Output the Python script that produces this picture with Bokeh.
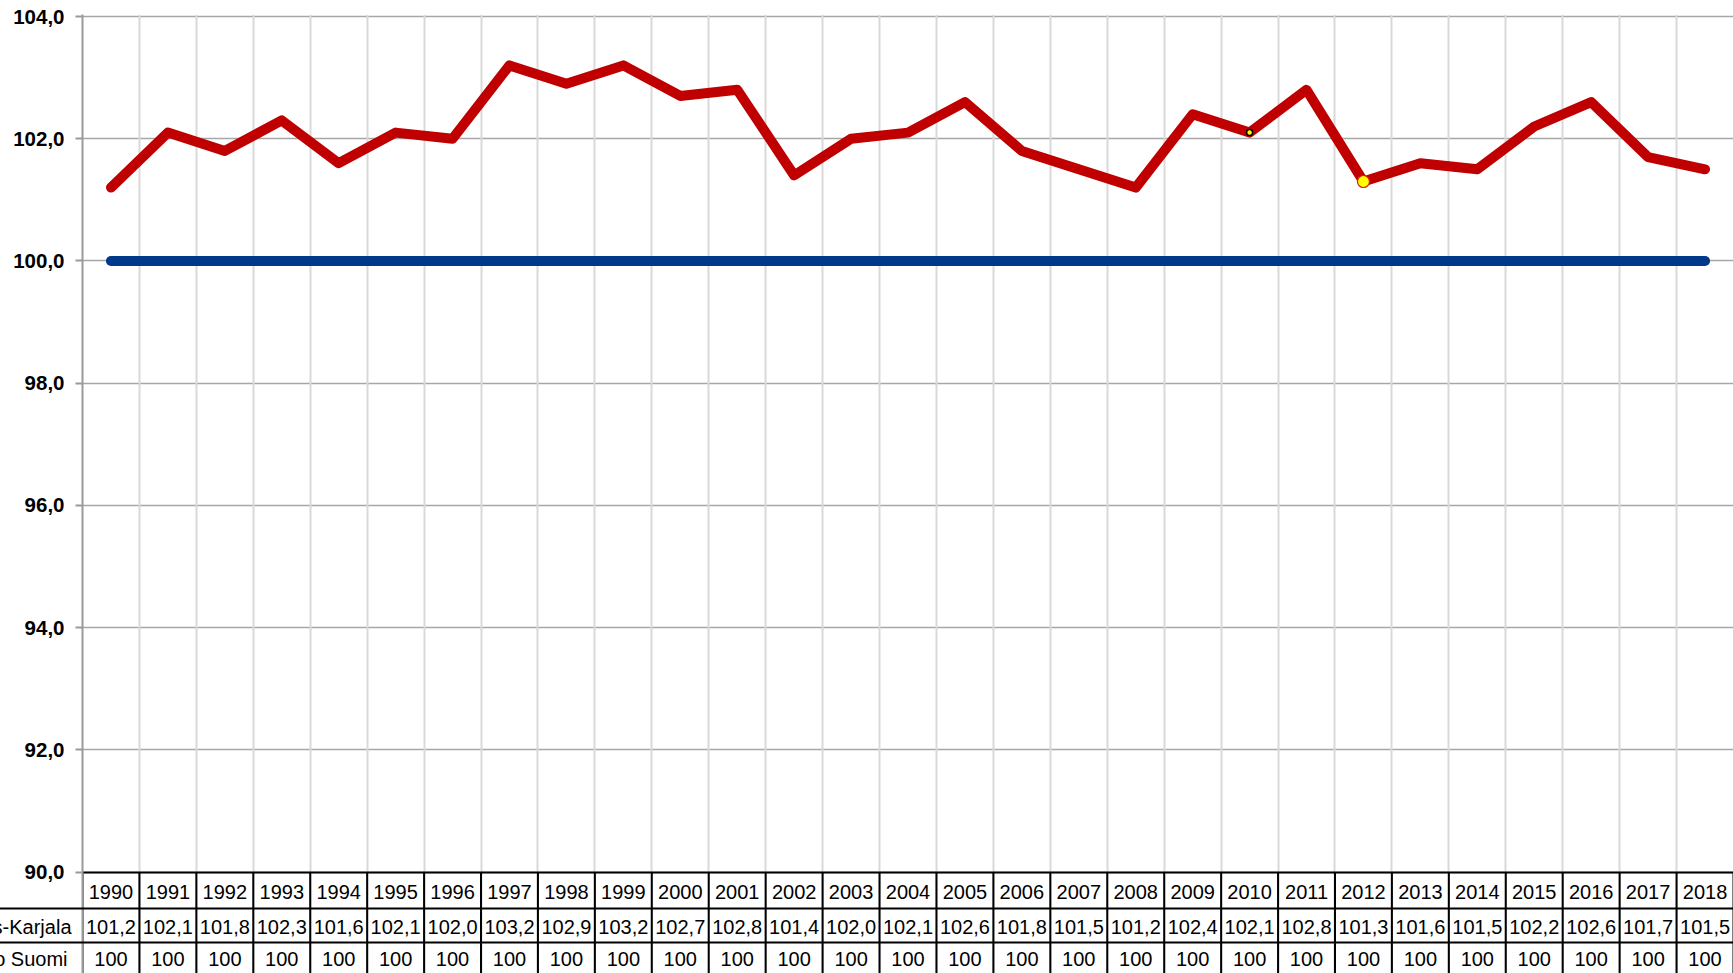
from bokeh.plotting import figure
from bokeh.models import Range1d, FixedTicker, Grid
from bokeh.embed import file_html
from bokeh.resources import INLINE
from bokeh.core.properties import value

# ---------------- data ----------------
years = ["1990", "1991", "1992", "1993", "1994", "1995", "1996", "1997", "1998", "1999",
         "2000", "2001", "2002", "2003", "2004", "2005", "2006", "2007", "2008", "2009",
         "2010", "2011", "2012", "2013", "2014", "2015", "2016", "2017", "2018"]
pohjois_karjala = [101.2, 102.1, 101.8, 102.3, 101.6, 102.1, 102.0, 103.2, 102.9, 103.2,
                   102.7, 102.8, 101.4, 102.0, 102.1, 102.6, 101.8, 101.5, 101.2, 102.4,
                   102.1, 102.8, 101.3, 101.6, 101.5, 102.2, 102.6, 101.7, 101.5]
koko_suomi = [100, 100, 100, 100, 100, 100, 100, 100, 100, 100,
              100, 100, 100, 100, 100, 100, 100, 100, 100, 100,
              100, 100, 100, 100, 100, 100, 100, 100, 100]
series_names = ["Pohjois-Karjala", "Koko Suomi"]
y_ticks = [90, 92, 94, 96, 98, 100, 102, 104]
y_tick_labels = ["90,0", "92,0", "94,0", "96,0", "98,0", "100,0", "102,0", "104,0"]
small_marker_year = "2010"
big_marker_year = "2012"

# ---------------- layout constants (pixels) ----------------
W, H = 1733, 973
LEFT = 82
TOP = 14
Y104_PX = 16.0
Y90_PX = 871.5
PXU = (Y90_PX - Y104_PX) / 14.0
N = len(years)
PXX = (W - LEFT) / N


def ypx(px):
    return 104 - (px - Y104_PX) / PXU


y_top = ypx(TOP)
y_bottom = ypx(H)

RED = "#C00000"
BLUE = "#00388A"
FONT = "Liberation Sans"

p = figure(width=W, height=H,
           x_range=Range1d(-0.5, N - 0.5), y_range=Range1d(y_bottom, y_top),
           output_backend="svg", toolbar_location=None, x_axis_location=None,
           min_border_left=LEFT, min_border_right=0, min_border_top=TOP, min_border_bottom=0)
p.outline_line_color = None
p.background_fill_color = "white"
p.extra_y_ranges = {"rows": Range1d(start=-H, end=-TOP)}

yax = p.yaxis[0]
yax.ticker = FixedTicker(ticks=y_ticks)
yax.major_label_overrides = {t: l for t, l in zip(y_ticks, y_tick_labels)}
yax.axis_line_color = "#9A9A9A"
yax.axis_line_width = 2
yax.major_tick_line_color = "#9A9A9A"
yax.major_tick_line_width = 2
yax.major_tick_out = 7
yax.major_tick_in = 0
yax.minor_tick_line_color = None
yax.major_label_text_font = FONT
yax.major_label_text_font_style = "bold"
yax.major_label_text_font_size = "20.5px"
yax.major_label_text_color = "black"
yax.major_label_standoff = 11

p.ygrid.ticker = FixedTicker(ticks=y_ticks)
p.ygrid.grid_line_color = "#A6A6A6"
p.ygrid.grid_line_width = 1.6
p.xgrid.visible = False
xgrid = Grid(dimension=0, ticker=FixedTicker(ticks=[k - 0.5 for k in range(1, N)]),
             grid_line_color="#D9D9D9", grid_line_width=2)
p.add_layout(xgrid)

xs = list(range(N))

p.line(xs, koko_suomi, line_color=BLUE, line_width=10, line_cap="round", line_join="round")
p.line(xs, pohjois_karjala, line_color=RED, line_width=10, line_cap="round", line_join="round")

i_small = years.index(small_marker_year)
i_big = years.index(big_marker_year)
p.scatter([xs[i_big]], [pohjois_karjala[i_big]], size=12, fill_color="#FFFF00",
          line_color="#D02000", line_width=1.2)
p.scatter([xs[i_small]], [pohjois_karjala[i_small]], size=6, fill_color="#FFFF00",
          line_color="black", line_width=1.5)

# ---------------- data table ----------------
ROW_TOP = -872
ROW1_BOTTOM = -908
ROW2_BOTTOM = -942
TABLE_BOTTOM = -H - 10
far_left = -0.5 - (LEFT + 10) / PXX

vx = [k - 0.5 for k in range(0, N + 1)]
p.segment(x0=vx, y0=[ROW_TOP] * len(vx), x1=vx, y1=[TABLE_BOTTOM] * len(vx),
          line_color="black", line_width=2, y_range_name="rows")
p.segment(x0=[-0.5], y0=[ROW_TOP], x1=[N - 0.5], y1=[ROW_TOP],
          line_color="black", line_width=2, y_range_name="rows")
p.segment(x0=[far_left] * 2, y0=[ROW1_BOTTOM, ROW2_BOTTOM],
          x1=[N - 0.5] * 2, y1=[ROW1_BOTTOM, ROW2_BOTTOM],
          line_color="black", line_width=2, y_range_name="rows", level="overlay")

fmt = [f"{v:.1f}".replace(".", ",") for v in pohjois_karjala]
suomi_txt = [str(v) for v in koko_suomi]
common = dict(text_font=value(FONT), text_font_size=value("20px"), text_color="black",
              text_baseline="middle", y_range_name="rows")
p.text(x=xs, y=[-891] * N, text=years, text_align="center", **common)
p.text(x=xs, y=[-926] * N, text=fmt, text_align="center", **common)
p.text(x=xs, y=[-958] * N, text=suomi_txt, text_align="center", **common)

# row headers (series names), right-aligned left of the table
p.text(x=[-0.5, -0.5], y=[-926, -958], text=series_names, x_offset=[-11, -15],
       text_align="right", level="overlay", **common)

open("out.html", "w").write(file_html(p, INLINE))
